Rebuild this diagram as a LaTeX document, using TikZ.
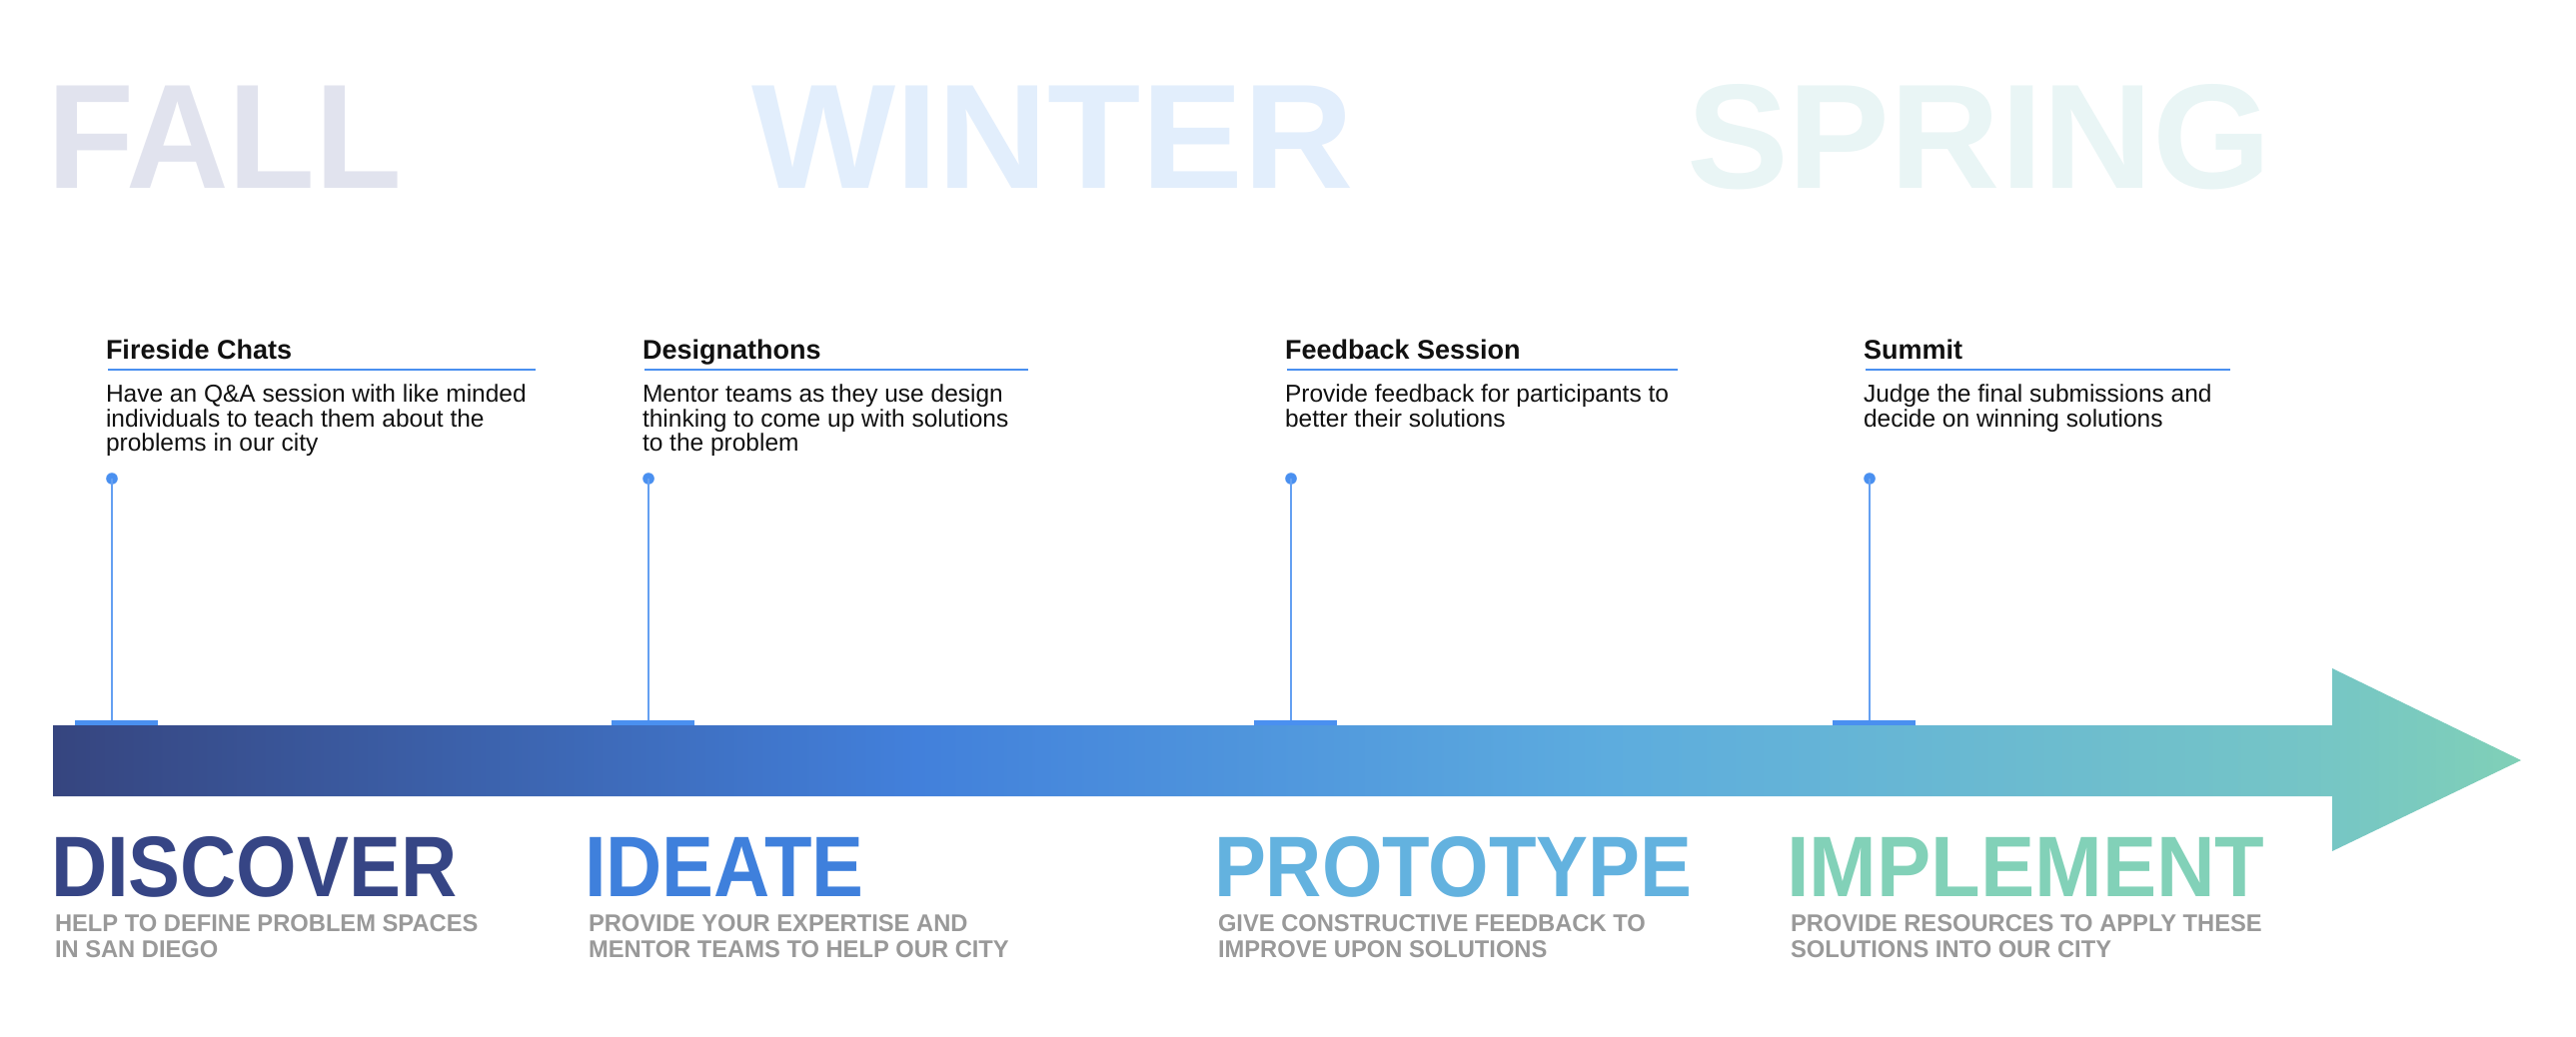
\documentclass[tikz,border=0pt]{standalone}
\usepackage{fontspec}
\setmainfont{Liberation Sans}
\newfontfamily\headfont[FakeStretch=0.905]{Liberation Sans}
\newfontfamily\wideheadfont[FakeStretch=0.945]{Liberation Sans}
\newfontfamily\narrowseasonfont[FakeStretch=0.955]{Liberation Sans}
\newfontfamily\wideseasonfont[FakeStretch=1.025]{Liberation Sans}
\newfontfamily\subfont[FakeStretch=0.98]{Liberation Sans}

% palette
\definecolor{tlA}{RGB}{54,69,127}
\definecolor{tlB}{RGB}{66,128,219}
\definecolor{tlC}{RGB}{93,172,222}
\definecolor{tlD}{RGB}{117,197,198}
\definecolor{tlE}{RGB}{128,208,183}
\definecolor{fallc}{RGB}{225,227,238}
\definecolor{winterc}{RGB}{226,238,252}
\definecolor{springc}{RGB}{233,245,245}
\definecolor{discoverc}{RGB}{54,69,133}
\definecolor{ideatec}{RGB}{63,128,220}
\definecolor{protoc}{RGB}{99,178,223}
\definecolor{implc}{RGB}{130,209,184}
\definecolor{subgray}{RGB}{153,153,153}
\definecolor{pinblue}{RGB}{74,144,240}
\definecolor{stemblue}{RGB}{100,160,242}
\definecolor{inkc}{RGB}{17,17,17}

% horizontal gradient of the timeline arrow (25bp..75bp spans the path)
\pgfdeclarehorizontalshading{timeline}{100bp}{%
  color(0bp)=(tlA); color(25bp)=(tlA); color(42.5bp)=(tlB);
  color(56.5bp)=(tlC); color(70.75bp)=(tlD); color(75bp)=(tlE);
  color(100bp)=(tlE)}

\tikzset{
  txt/.style={inner sep=0pt, outer sep=0pt, anchor=base west},
  season/.style={txt, font=\fontsize{149}{149}\selectfont\bfseries},
  phase/.style={txt, font=\headfont\fontsize{86}{86}\selectfont\bfseries},
  phasesub/.style={txt, text=subgray, font=\subfont\fontsize{24.2}{25}\selectfont\bfseries},
  evtitle/.style={txt, text=inkc, font=\fontsize{27}{27}\selectfont\bfseries},
  evbody/.style={txt, text=inkc, font=\fontsize{24.5}{24.5}\selectfont},
  evrule/.style={draw=pinblue, line width=1.1pt},
  pin/.style={circle, fill=pinblue, inner sep=0pt, minimum size=11.6pt},
  pinbase/.style={rectangle, fill=pinblue, inner sep=0pt, minimum width=83pt, minimum height=5pt},
  stem/.style={draw=stemblue, line width=1.4pt},
}

\begin{document}
\begin{tikzpicture}[x=1pt, y=-1pt]
\fill[white] (0,0) rectangle (2578,1037);
\path[use as bounding box] (0,0) rectangle (2578,1037);

% season headings
\node[season, text=fallc, font=\narrowseasonfont\fontsize{149}{149}\selectfont\bfseries]
  (fall) at (47,188) {FALL};
\node[season, text=winterc, font=\wideseasonfont\fontsize{149}{149}\selectfont\bfseries]
  (winter) at (752,188) {WINTER};
\node[season, text=springc, font=\wideseasonfont\fontsize{149}{149}\selectfont\bfseries]
  (spring) at (1688,188) {SPRING};

% timeline arrow
\shade[shading=timeline] (53,726) -- (2334,726) -- (2334,669) -- (2523,761)
  -- (2334,852) -- (2334,797) -- (53,797) -- cycle;

% event pins
\node[pinbase] (b1) at (116.5,723.5) {};
\node[pinbase] (b2) at (653.5,723.5) {};
\node[pinbase] (b3) at (1296.5,723.5) {};
\node[pinbase] (b4) at (1875.5,723.5) {};
\node[pin] (p1) at (112,479) {};
\node[pin] (p2) at (649,479) {};
\node[pin] (p3) at (1292,479) {};
\node[pin] (p4) at (1871,479) {};
\draw[stem] (p1.center) -- (p1 |- b1.north);
\draw[stem] (p2.center) -- (p2 |- b2.north);
\draw[stem] (p3.center) -- (p3 |- b3.north);
\draw[stem] (p4.center) -- (p4 |- b4.north);

% events
\node[evtitle] (e1t) at (106,359) {Fireside Chats};
\draw[evrule] (108,370) -- (536,370);
\node[evbody] (e1a) at (106,402) {Have an Q\&A session with like minded};
\node[evbody] (e1b) at (106,427) {individuals to teach them about the};
\node[evbody] (e1c) at (106,451) {problems in our city};

\node[evtitle] (e2t) at (643,359) {Designathons};
\draw[evrule] (645,370) -- (1029,370);
\node[evbody] (e2a) at (643,402) {Mentor teams as they use design};
\node[evbody] (e2b) at (643,427) {thinking to come up with solutions};
\node[evbody] (e2c) at (643,451) {to the problem};

\node[evtitle] (e3t) at (1286,359) {Feedback Session};
\draw[evrule] (1288,370) -- (1679,370);
\node[evbody] (e3a) at (1286,402) {Provide feedback for participants to};
\node[evbody] (e3b) at (1286,427) {better their solutions};

\node[evtitle] (e4t) at (1865,359) {Summit};
\draw[evrule] (1867,370) -- (2232,370);
\node[evbody] (e4a) at (1865,402) {Judge the final submissions and};
\node[evbody] (e4b) at (1865,427) {decide on winning solutions};

% phases
\node[phase, text=discoverc] (ph1) at (51,897) {DISCOVER};
\node[phasesub] (ph1a) at (55,932) {HELP TO DEFINE PROBLEM SPACES};
\node[phasesub] (ph1b) at (55,958) {IN SAN DIEGO};

\node[phase, text=ideatec] (ph2) at (585,897) {IDEATE};
\node[phasesub] (ph2a) at (589,932) {PROVIDE YOUR EXPERTISE AND};
\node[phasesub] (ph2b) at (589,958) {MENTOR TEAMS TO HELP OUR CITY};

\node[phase, text=protoc] (ph3) at (1215,897) {PROTOTYPE};
\node[phasesub] (ph3a) at (1219,932) {GIVE CONSTRUCTIVE FEEDBACK TO};
\node[phasesub] (ph3b) at (1219,958) {IMPROVE UPON SOLUTIONS};

\node[phase, text=implc, font=\wideheadfont\fontsize{86}{86}\selectfont\bfseries]
  (ph4) at (1788,897) {IMPLEMENT};
\node[phasesub] (ph4a) at (1792,932) {PROVIDE RESOURCES TO APPLY THESE};
\node[phasesub] (ph4b) at (1792,958) {SOLUTIONS INTO OUR CITY};
\end{tikzpicture}
\end{document}
